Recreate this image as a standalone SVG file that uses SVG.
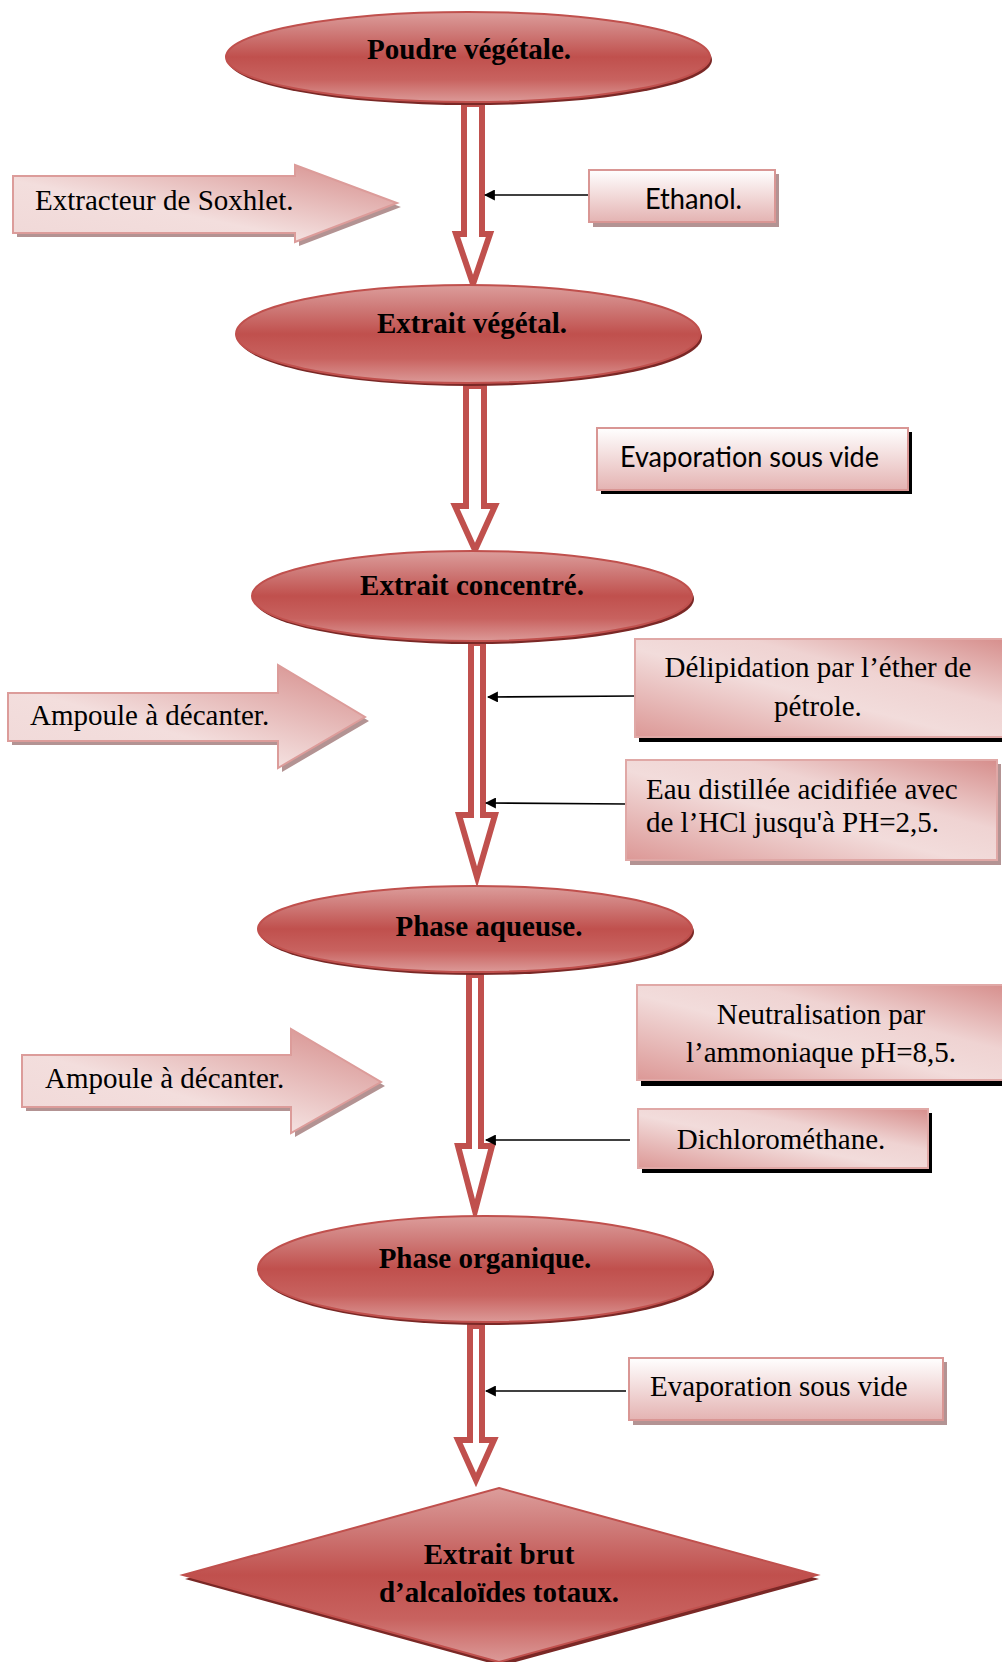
<svg xmlns="http://www.w3.org/2000/svg" width="1002" height="1662" viewBox="0 0 1002 1662">
<defs>
<linearGradient id="ellG" x1="0" y1="0" x2="0" y2="1">
<stop offset="0" stop-color="#dc9d9b"/>
<stop offset="0.2" stop-color="#d07f7d"/>
<stop offset="0.5" stop-color="#c0504d"/>
<stop offset="0.75" stop-color="#c8625f"/>
<stop offset="1" stop-color="#dc9a98"/>
</linearGradient>
<linearGradient id="boxV" x1="0" y1="0" x2="0" y2="1">
<stop offset="0" stop-color="#ffffff"/>
<stop offset="1" stop-color="#e4b3b2"/>
</linearGradient>
<linearGradient id="boxD" x1="0" y1="1" x2="1" y2="0">
<stop offset="0" stop-color="#dc9896"/>
<stop offset="0.45" stop-color="#f2dcdb"/>
<stop offset="0.65" stop-color="#efd3d2"/>
<stop offset="1" stop-color="#d68e8c"/>
</linearGradient>
<linearGradient id="arrG" x1="0" y1="1" x2="1" y2="0">
<stop offset="0" stop-color="#f0d8d7"/>
<stop offset="0.4" stop-color="#f3dedd"/>
<stop offset="1" stop-color="#d58b89"/>
</linearGradient>
<marker id="ah" viewBox="0 0 10 10" refX="9" refY="5" markerWidth="11" markerHeight="11" markerUnits="userSpaceOnUse" orient="auto">
<path d="M0,0 L10,5 L0,10 Z" fill="#000"/>
</marker>
<style>
.ell{fill:url(#ellG);stroke:#c0504d;stroke-width:2}
.ellsh{fill:#7a2826}
.ttl{font-family:"Liberation Serif","Times New Roman",serif;font-weight:bold;font-size:29px;fill:#000;text-anchor:middle}
.ser{font-family:"Liberation Serif","Times New Roman",serif;font-size:29px;fill:#000}
.san{font-family:Lato,"Liberation Sans",sans-serif;font-size:28px;fill:#000}
.boxv{fill:url(#boxV);stroke:#d99694;stroke-width:2}
.boxd{fill:url(#boxD);stroke:#e0a8a6;stroke-width:2}
.shb{fill:#000}
.shg{fill:#b39393}
.hol{fill:#fff;stroke:#c0504d;stroke-width:6;stroke-linejoin:miter}
.big{fill:url(#arrG);stroke:#dc9c9a;stroke-width:2}
.con{stroke:#000;stroke-width:1.6;fill:none;marker-end:url(#ah)}
</style>
</defs>

<g id="connectors">
<path class="hol" d="M464,104 L464,234 L456,234 L473,284 L490,234 L482,234 L482,104 Z"/>
<path class="hol" d="M466,386 L466,506 L455,506 L475,550 L495,506 L484,506 L484,386 Z"/>
<path class="hol" d="M471,643 L471,815 L459,815 L477,877 L495,815 L483,815 L483,643 Z"/>
<path class="hol" d="M469,975 L469,1146 L458,1146 L475,1211 L492,1146 L481,1146 L481,975 Z"/>
<path class="hol" d="M470,1326 L470,1440 L458,1440 L476,1480 L494,1440 L482,1440 L482,1326 Z"/>
<line class="con" x1="589" y1="195" x2="485" y2="195"/>
<line class="con" x1="635" y1="696" x2="488" y2="697"/>
<line class="con" x1="626" y1="804" x2="486" y2="803"/>
<line class="con" x1="630" y1="1140" x2="486" y2="1140"/>
<line class="con" x1="626" y1="1391" x2="486" y2="1391"/>
</g>

<g id="n-poudre">
<ellipse class="ellsh" cx="470" cy="60" rx="242" ry="45"/>
<ellipse class="ell" cx="468" cy="57" rx="242" ry="45"/>
<text class="ttl" x="469" y="59">Poudre végétale.</text>
</g>

<g id="n-soxhlet">
<polygon class="shg" points="17,180 299,180 299,169 401,207 299,246 299,237 17,237"/>
<polygon class="big" points="13,176 295,176 295,165 397,203 295,242 295,233 13,233"/>
<text class="ser" x="35" y="210">Extracteur de Soxhlet.</text>
</g>

<g id="n-ethanol">
<rect class="shg" x="593" y="174" width="186" height="53"/>
<rect class="boxv" x="589" y="170" width="186" height="52"/>
<text class="san" x="645" y="209" textLength="97" lengthAdjust="spacingAndGlyphs">Ethanol.</text>
</g>

<g id="n-extrait-vegetal">
<ellipse class="ellsh" cx="470" cy="337" rx="232" ry="49"/>
<ellipse class="ell" cx="468" cy="334" rx="232" ry="49"/>
<text class="ttl" x="472" y="333">Extrait végétal.</text>
</g>

<g id="n-evap1">
<rect class="shb" x="601" y="432" width="311" height="62"/>
<rect class="boxv" x="597" y="428" width="311" height="62"/>
<text class="san" x="620" y="467" textLength="259" lengthAdjust="spacingAndGlyphs">Evaporation sous vide</text>
</g>

<g id="n-extrait-concentre">
<ellipse class="ellsh" cx="474" cy="599" rx="220" ry="45"/>
<ellipse class="ell" cx="472" cy="596" rx="220" ry="45"/>
<text class="ttl" x="472" y="595">Extrait concentré.</text>
</g>

<g id="n-ampoule1">
<polygon class="shg" points="12,697 282,697 282,669 369,721 282,772 282,745 12,745"/>
<polygon class="big" points="8,693 278,693 278,665 365,717 278,768 278,741 8,741"/>
<text class="ser" x="30" y="725">Ampoule à décanter.</text>
</g>

<g id="n-delipidation">
<rect class="shb" x="639" y="643" width="370" height="99"/>
<rect class="boxd" x="635" y="639" width="372" height="98"/>
<text class="ser" x="818" y="677" text-anchor="middle">Délipidation par l’éther de</text>
<text class="ser" x="818" y="716" text-anchor="middle">pétrole.</text>
</g>

<g id="n-eau">
<rect class="shg" x="630" y="764" width="371" height="101"/>
<rect class="boxd" x="626" y="760" width="371" height="100"/>
<text class="ser" x="646" y="799">Eau distillée acidifiée avec</text>
<text class="ser" x="646" y="832">de l’HCl jusqu'à PH=2,5.</text>
</g>

<g id="n-phase-aqueuse">
<ellipse class="ellsh" cx="477" cy="932" rx="217" ry="43"/>
<ellipse class="ell" cx="475" cy="929" rx="217" ry="43"/>
<text class="ttl" x="489" y="936">Phase aqueuse.</text>
</g>

<g id="n-neutralisation">
<rect class="shb" x="641" y="989" width="370" height="97"/>
<rect class="boxd" x="637" y="985" width="372" height="95"/>
<text class="ser" x="821" y="1024" text-anchor="middle">Neutralisation par</text>
<text class="ser" x="821" y="1062" text-anchor="middle">l’ammoniaque pH=8,5.</text>
</g>

<g id="n-ampoule2">
<polygon class="shg" points="26,1059 295,1059 295,1033 385,1086 295,1137 295,1111 26,1111"/>
<polygon class="big" points="22,1055 291,1055 291,1029 381,1082 291,1133 291,1107 22,1107"/>
<text class="ser" x="45" y="1088">Ampoule à décanter.</text>
</g>

<g id="n-dichloro">
<rect class="shb" x="642" y="1113" width="290" height="60"/>
<rect class="boxd" x="638" y="1109" width="290" height="59"/>
<text class="ser" x="781" y="1149" text-anchor="middle">Dichlorométhane.</text>
</g>

<g id="n-phase-organique">
<ellipse class="ellsh" cx="487" cy="1272" rx="227" ry="53"/>
<ellipse class="ell" cx="485" cy="1269" rx="227" ry="53"/>
<text class="ttl" x="485" y="1268">Phase organique.</text>
</g>

<g id="n-evap2">
<rect class="shg" x="633" y="1362" width="314" height="63"/>
<rect class="boxv" x="629" y="1358" width="314" height="62"/>
<text class="ser" x="650" y="1396">Evaporation sous vide</text>
</g>

<g id="n-extrait-brut">
<polygon class="ellsh" points="501,1492 819,1579 501,1666 185,1579"/>
<polygon class="ell" points="499,1488 817,1575 499,1662 183,1575"/>
<text class="ttl" x="499" y="1564">Extrait brut</text>
<text class="ttl" x="499" y="1602">d’alcaloïdes totaux.</text>
</g>
</svg>
